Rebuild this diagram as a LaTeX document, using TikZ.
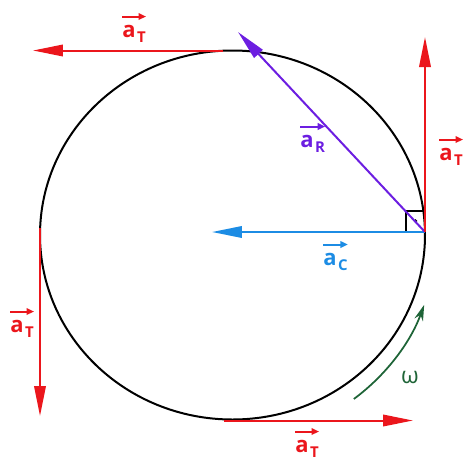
\documentclass[tikz,border=0pt]{standalone}
\usepackage{fontspec}
\setmainfont{Open Sans}
\usetikzlibrary{arrows.meta}
\definecolor{vecred}{RGB}{235,22,28}
\definecolor{vecpurple}{RGB}{108,30,225}
\definecolor{vecblue}{RGB}{28,140,228}
\definecolor{omegagreen}{RGB}{30,100,55}
\newcommand\vsub[1]{\kern0.8pt\raisebox{-3pt}{\fontsize{8.5}{10}\selectfont#1}}
\begin{document}
\begin{tikzpicture}[
		x=0.02cm, y=-0.02cm,
		vector/.style={line width=0.04cm, -{Triangle[length=0.6cm, width=0.23cm]}},
		veclabel/.style={inner sep=0pt, anchor=base west, font=\bfseries\fontsize{12.5}{14}\selectfont},
		labarrow/.style={line width=0.04cm, -{Triangle[length=0.15cm, width=0.13cm]}}
	]
			\def\Rx{192.5}
			\def\Ry{184.5}
			\useasboundingbox (0,0) rectangle (474,468);
			\coordinate (O) at (232.5,235);
			\coordinate (P) at (425,232);
			\coordinate (Q) at (40,228);
			\coordinate (T) at (223,50.5);
			\coordinate (B) at (224,420.5);
			\coordinate (tipR) at (425,37);
			\coordinate (tipL) at (40,416);
			\coordinate (tipT) at (33,50.5);
			\coordinate (tipB) at (413,420.5);
			\coordinate (tipC) at (212,232);
			\coordinate (tipRad) at (238,32);
				\draw[line width=0.04cm] (O) ellipse[x radius=\Rx, y radius=\Ry];
				\draw[line width=0.03cm] (406,211) rectangle (P);
				\fill (415.5,221) circle[radius=1.8];
				\draw[vector, vecblue] (P) -- (tipC);
				\draw[vector, vecpurple] (P) -- (tipRad);
				\draw[vector, vecred] (P) -- (tipR);
				\draw[vector, vecred] (Q) -- (tipL);
				\draw[vector, vecred] (T) -- (tipT);
				\draw[vector, vecred] (B) -- (tipB);
				\draw[omegagreen, line width=0.035cm, -{Stealth[length=0.32cm, width=0.18cm]}]
					(O) ++(53.5:204) arc[start angle=53.5, end angle=20, radius=204];
				\node[veclabel, vecred] (aTtop) at (122,37) {a\vsub{T}};
				\node[veclabel, vecpurple] (aR) at (300,147) {a\vsub{R}};
				\node[veclabel, vecred] (aTright) at (439,160) {a\vsub{T}};
				\node[veclabel, vecblue] (aC) at (323,265) {a\vsub{C}};
				\node[veclabel, vecred] (aTleft) at (10,332) {a\vsub{T}};
				\node[veclabel, vecred] (aTbottom) at (295,452) {a\vsub{T}};
				\node[text=omegagreen, font=\fontsize{13}{15}\selectfont] (omega) at (410,377) {ω};
				\foreach \lbl/\col in {aTtop/vecred, aR/vecpurple, aTright/vecred, aC/vecblue, aTleft/vecred, aTbottom/vecred}
					\draw[labarrow, \col] ([yshift=4.5pt]\lbl.north west) -- ([yshift=4.5pt]\lbl.north east);
\end{tikzpicture}
\end{document}
